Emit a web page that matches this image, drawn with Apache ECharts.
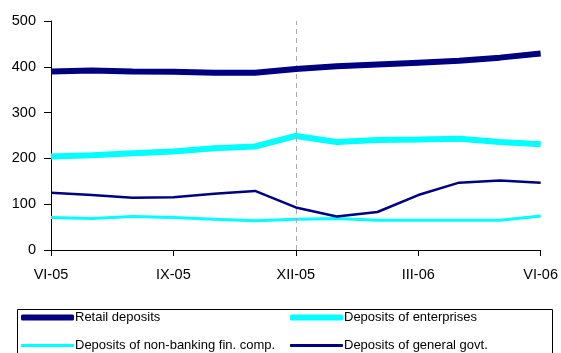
<!DOCTYPE html>
<html>
<head>
<meta charset="utf-8">
<script src="https://cdn.jsdelivr.net/npm/echarts@6/dist/echarts.min.js"></script>
<style>
  html, body { margin: 0; padding: 0; background: #fff; }
  #chart { width: 561px; height: 353px; }
</style>
</head>
<body>
<div id="chart"></div>
<script>
// Monthly deposits, June 2005 – June 2006
const months = ['VI-05','VII-05','VIII-05','IX-05','X-05','XI-05','XII-05','I-06','II-06','III-06','IV-06','V-06','VI-06'];
const retailDeposits      = [390, 392, 390, 389, 387, 387, 395, 401, 405, 409, 413, 420, 429];
const enterpriseDeposits  = [204, 207, 211, 215, 222, 226, 249, 236, 240, 241, 243, 236, 231];
const nonBankingDeposits  = [71, 69, 73, 71, 67, 64, 67, 69, 65, 65, 65, 65, 74];
const govtDeposits        = [125, 120, 114, 115, 123, 129, 93, 73, 83, 120, 147, 152, 147];
const yTicks = [0, 100, 200, 300, 400, 500];
const shownMonths = ['VI-05','IX-05','XII-05','III-06','VI-06'];

const NAVY = '#000080';
const CYAN = '#00FFFF';
const FONT = 'Liberation Sans, Arial, sans-serif';

const chart = echarts.init(document.getElementById('chart'), null, { renderer: 'canvas' });

function legendItem(name, left, top, h) {
  return {
    data: [name],
    left: left, top: top,
    orient: 'horizontal',
    padding: 0,
    itemWidth: 53, itemHeight: h,
    icon: 'roundRect',
    selectedMode: false,
    textStyle: { fontFamily: FONT, fontSize: 13, color: '#000', padding: [0, 0, 0, -4] }
  };
}

chart.setOption({
  animation: false,
  backgroundColor: '#fff',
  grid: { left: 51, right: 20, top: 21, bottom: 103, containLabel: false },
  xAxis: {
    type: 'category',
    data: months,
    boundaryGap: false,
    axisLine: { lineStyle: { color: '#000', width: 1 } },
    axisTick: { length: 6, lineStyle: { color: '#000' },
      interval: (i, v) => shownMonths.includes(v) },
    axisLabel: { interval: (i, v) => shownMonths.includes(v),
      fontFamily: FONT, fontSize: 14.5, color: '#000', margin: 17 },
    splitLine: { show: false }
  },
  yAxis: {
    type: 'value',
    min: yTicks[0], max: yTicks[yTicks.length - 1], interval: 100,
    axisLine: { show: true, lineStyle: { color: '#000', width: 1 } },
    axisTick: { show: true, length: 7, lineStyle: { color: '#000' } },
    axisLabel: { fontFamily: FONT, fontSize: 14.5, color: '#000', margin: 15 },
    splitLine: { show: false }
  },
  legend: [
    legendItem('Retail deposits', 21, 311, 6),
    legendItem('Deposits of enterprises', 290, 311, 6),
    legendItem('Deposits of non-banking fin. comp.', 21, 339, 3),
    legendItem('Deposits of general govt.', 290, 339, 3)
  ],
  graphic: [{
    type: 'rect',
    shape: { x: 17.5, y: 309.5, width: 535, height: 50 },
    style: { fill: 'none', stroke: '#000', lineWidth: 1 },
    silent: true
  }],
  series: [
    {
      name: 'Retail deposits', type: 'line', data: retailDeposits,
      color: NAVY, symbol: 'none', lineStyle: { width: 6, color: NAVY },
      z: 5,
      markLine: {
        silent: true, symbol: 'none', animation: false,
        label: { show: false },
        lineStyle: { type: [5, 4], color: '#aaaaaa', width: 1 },
        data: [{ xAxis: 'XII-05' }]
      }
    },
    {
      name: 'Deposits of enterprises', type: 'line', data: enterpriseDeposits,
      color: CYAN, symbol: 'none', lineStyle: { width: 6, color: CYAN }, z: 4
    },
    {
      name: 'Deposits of non-banking fin. comp.', type: 'line', data: nonBankingDeposits,
      color: CYAN, symbol: 'none', lineStyle: { width: 3, color: CYAN }, z: 3
    },
    {
      name: 'Deposits of general govt.', type: 'line', data: govtDeposits,
      color: NAVY, symbol: 'none', lineStyle: { width: 2.5, color: NAVY }, z: 3
    }
  ]
});
</script>
</body>
</html>
